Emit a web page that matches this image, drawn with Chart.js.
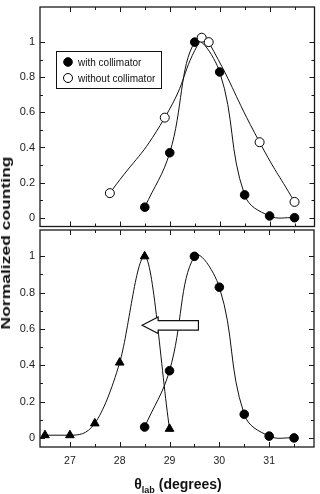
<!DOCTYPE html>
<html lang="en">
<head>
<meta charset="utf-8">
<title>Normalized counting vs theta lab</title>
<script src="https://cdn.jsdelivr.net/npm/chart.js"></script>
<style>
    html, body { margin: 0; padding: 0; background: #fff; }
    #page {
        position: relative;
        width: 320px;
        height: 494px;
        overflow: hidden;
        font-family: Arial, 'Liberation Sans', sans-serif;
        color: #111;
    }
    #topChart { position: absolute; left: 0; top: 0; }
    #bottomChart { position: absolute; left: 0; top: 224px; }
    .ytitle {
        position: absolute;
        left: 6px;
        top: 243px;
        font-weight: bold;
        font-size: 12.5px;
        white-space: nowrap;
        transform: translate(-50%, -50%) rotate(-90deg) scaleX(1.4);
    }
    .xtitle {
        position: absolute;
        left: 178px;
        top: 484px;
        transform: translate(-50%, -50%);
        font-weight: bold;
        font-size: 14px;
        white-space: nowrap;
        line-height: 16px;
    }
    .xtitle sub { font-size: 9px; line-height: 0; }
</style>
</head>
<body>
<div id="page">
    <canvas id="topChart" width="320" height="232"></canvas>
    <canvas id="bottomChart" width="320" height="270"></canvas>
    <div class="ytitle">Normalized counting</div>
    <div class="xtitle">&theta;<sub>lab</sub> (degrees)</div>
</div>

<script>
    // values
    const withColX = [28.5, 29, 29.5, 30, 30.5, 31, 31.5];
    const withColY = [0.06, 0.37, 1.0, 0.83, 0.13, 0.01, 0.0];
    const withoutColX = [27.8, 28.9, 29.64, 29.78, 30.8, 31.5];
    const withoutColY = [0.14, 0.57, 1.025, 1.0, 0.43, 0.09];
    const shiftedX = [26.5, 27, 27.5, 28, 28.5, 29];
    const shiftedY = [0.015, 0.015, 0.08, 0.415, 1.0, 0.05];

    const yTicks = [0, 0.2, 0.4, 0.6, 0.8, 1];
    const xTicks = [27, 28, 29, 30, 31];
    const xRange = [26.4, 31.9];
    const topYRange = [-0.05, 1.2];
    const bottomYRange = [-0.05, 1.145];

    // hollow arrow in the lower panel (tip and tail, data units)
    const arrowTip = [28.45, 0.62];
    const arrowTail = 29.58;

    const pts = (xs, ys) => xs.map((x, i) => ({ x: x, y: ys[i] }));

    // frame with inward ticks on all four sides
    const framePlugin = {
        id: 'frame',
        beforeDatasetsDraw(chart) {
            const { ctx, chartArea: a, scales: { x, y } } = chart;
            ctx.save();
            ctx.strokeStyle = '#1a1a1a';
            ctx.lineWidth = 1.3;
            ctx.strokeRect(a.left, a.top, a.right - a.left, a.bottom - a.top);
            ctx.lineWidth = 1;
            ctx.beginPath();
            for (let k = 0; k <= 10; k++) {
                const py = Math.round(y.getPixelForValue(k / 10)) + 0.5;
                const len = k % 2 === 0 ? 5 : 3;
                ctx.moveTo(a.left, py); ctx.lineTo(a.left + len, py);
                ctx.moveTo(a.right, py); ctx.lineTo(a.right - len, py);
            }
            for (let k = 0; k <= 9; k++) {
                const v = 27 + k * 0.5;
                const px = Math.round(x.getPixelForValue(v)) + 0.5;
                const len = k % 2 === 0 ? 5 : 3;
                ctx.moveTo(px, a.top); ctx.lineTo(px, a.top + len);
                ctx.moveTo(px, a.bottom); ctx.lineTo(px, a.bottom - len);
            }
            ctx.stroke();
            ctx.restore();
        }
    };

    // boxed legend inside the upper panel
    const legendPlugin = {
        id: 'boxLegend',
        afterDraw(chart) {
            const ctx = chart.ctx;
            const a = chart.chartArea;
            const bx = a.left + 16.5, by = 51.5;
            ctx.save();
            ctx.lineWidth = 1;
            ctx.strokeStyle = '#111';
            ctx.strokeRect(bx, by, 105, 37);
            chart.data.datasets.forEach((ds, i) => {
                const cy = 62 + i * 16;
                ctx.fillStyle = ds.pointBackgroundColor;
                ctx.strokeStyle = '#000';
                ctx.lineWidth = 1;
                Chart.helpers.drawPoint(ctx, {
                    pointStyle: 'circle',
                    radius: ds.pointRadius,
                    borderWidth: 1,
                    rotation: 0
                }, 68, cy);
                ctx.save();
                ctx.translate(78, cy);
                ctx.scale(0.87, 1);
                ctx.fillStyle = '#111';
                ctx.font = '11.5px Arial, "Liberation Sans", sans-serif';
                ctx.textBaseline = 'middle';
                ctx.fillText(ds.label, 0, 0.5);
                ctx.restore();
            });
            ctx.restore();
        }
    };

    const arrowPlugin = {
        id: 'shiftArrow',
        afterDatasetsDraw(chart) {
            const { ctx, scales: { x, y } } = chart;
            const tx = x.getPixelForValue(arrowTip[0]);
            const ty = y.getPixelForValue(arrowTip[1]);
            const ex = x.getPixelForValue(arrowTail);
            const headLen = 16, headH = 8.3, bodyH = 4.7;
            ctx.save();
            ctx.beginPath();
            ctx.moveTo(tx, ty);
            ctx.lineTo(tx + headLen, ty - headH);
            ctx.lineTo(tx + headLen, ty - bodyH);
            ctx.lineTo(ex, ty - bodyH);
            ctx.lineTo(ex, ty + bodyH);
            ctx.lineTo(tx + headLen, ty + bodyH);
            ctx.lineTo(tx + headLen, ty + headH);
            ctx.closePath();
            ctx.fillStyle = '#fff';
            ctx.fill();
            ctx.strokeStyle = '#111';
            ctx.lineWidth = 1.2;
            ctx.stroke();
            ctx.restore();
        }
    };

    function lineSet(label, data, style, fill, radius, order, mode, tension) {
        return {
            label: label,
            data: data,
            showLine: true,
            borderColor: '#111',
            borderWidth: 1,
            tension: tension || 0.4,
            cubicInterpolationMode: mode || 'default',
            pointStyle: style,
            pointRadius: radius,
            pointBackgroundColor: fill,
            pointBorderColor: '#000',
            pointBorderWidth: 1,
            order: order
        };
    }

    function makeOptions(yRange, showX, padding) {
        return {
            responsive: false,
            animation: false,
            events: [],
            layout: { padding: padding },
            plugins: { legend: { display: false }, tooltip: { enabled: false } },
            scales: {
                x: {
                    type: 'linear',
                    min: xRange[0],
                    max: xRange[1],
                    display: showX,
                    grid: { display: false, drawTicks: false },
                    border: { display: false },
                    ticks: {
                        color: '#222',
                        padding: 8,
                        font: { size: 10.5, family: 'Arial, "Liberation Sans", sans-serif' },
                        callback: v => String(v)
                    },
                    afterBuildTicks: s => { s.ticks = xTicks.map(v => ({ value: v })); },
                    afterFit: s => {
                        if (showX) s.height = 47;
                        s.paddingLeft = 0;
                        s.paddingRight = 0;
                    }
                },
                y: {
                    type: 'linear',
                    min: yRange[0],
                    max: yRange[1],
                    grid: { display: false, drawTicks: false },
                    border: { display: false },
                    ticks: {
                        color: '#222',
                        padding: 5,
                        font: { size: 11, family: 'Arial, "Liberation Sans", sans-serif' },
                        callback: v => String(v)
                    },
                    afterBuildTicks: s => { s.ticks = yTicks.map(v => ({ value: v })); },
                    afterFit: s => {
                        s.width = 40;
                        s.paddingTop = 0;
                        s.paddingBottom = 0;
                    }
                }
            }
        };
    }

    // upper panel: with / without collimator
    new Chart(document.getElementById('topChart'), {
        type: 'scatter',
        data: {
            datasets: [
                lineSet('with collimator', pts(withColX, withColY), 'circle', '#000', 4.3, 1),
                lineSet('without collimator', pts(withoutColX, withoutColY), 'circle', '#fff', 4.5, 0, 'default', 0.55)
            ]
        },
        options: makeOptions(topYRange, false, { top: 7, right: 3, bottom: 4.5, left: 0 }),
        plugins: [framePlugin, legendPlugin]
    });

    // lower panel: measured peak and shifted peak
    new Chart(document.getElementById('bottomChart'), {
        type: 'scatter',
        data: {
            datasets: [
                lineSet('shifted', pts(shiftedX, shiftedY), 'triangle', '#000', 5, 0, 'monotone'),
                lineSet('with collimator', pts(withColX, withColY), 'circle', '#000', 4.3, 1)
            ]
        },
        options: makeOptions(bottomYRange, true, { top: 4, right: 3, bottom: 0, left: 0 }),
        plugins: [framePlugin, arrowPlugin]
    });
</script>
</body>
</html>
